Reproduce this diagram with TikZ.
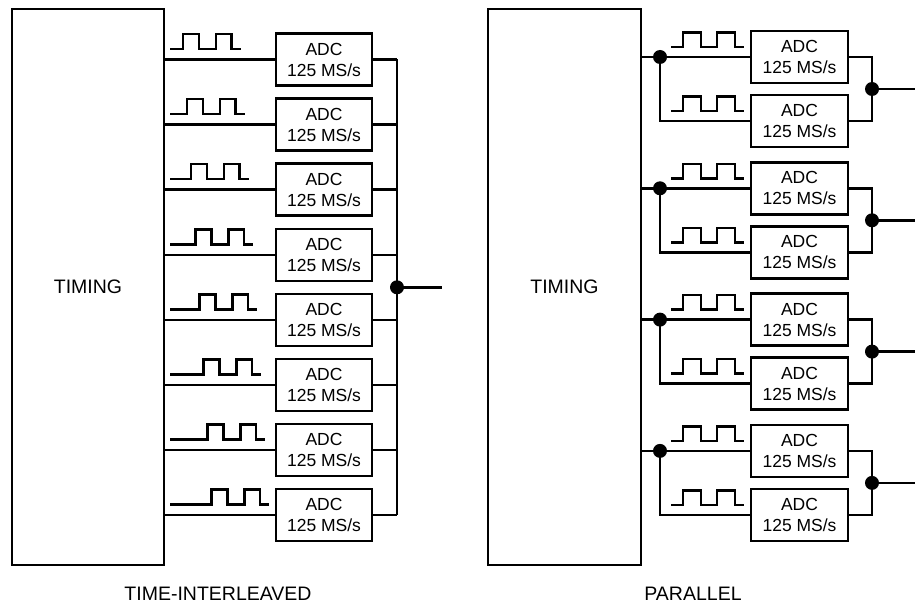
\documentclass[tikz,border=0pt]{standalone}
\usepackage{fontspec}
\setmainfont{Liberation Sans}
\begin{document}
\begin{tikzpicture}[x=1pt,y=-1pt, line width=2.5pt,
  adc/.style={draw, line width=2.5pt, minimum width=96pt, minimum height=52pt, inner sep=0pt, align=center, font=\fontsize{17.5}{21}\selectfont},
  timing/.style={draw, line width=2.5pt, inner sep=0pt, font=\fontsize{19.5}{22}\selectfont},
  wire/.style={line width=2.5pt},
  wave/.style={line width=2.5pt, line join=miter},
  dotnode/.style={circle, fill=black, inner sep=0pt, minimum size=14pt},
  caption/.style={inner sep=0pt, font=\fontsize{19.5}{22}\selectfont}]
\useasboundingbox (0,0) rectangle (915,604);

% ---------- time-interleaved ----------
\node[timing, minimum width=152pt, minimum height=556pt] (tL) at (88,287) {TIMING};
\foreach \i in {0,...,7} {
  \pgfmathsetmacro\cy{59.5+65.1*\i}
  \pgfmathsetmacro\r{183+4.1*\i}
  \node[adc] (a\i) at (324,\cy) {ADC\\125 MS/s};
  \draw[wire] (tL.east |- a\i.west) -- (a\i.west);
  \coordinate (o\i) at (397,\cy);
  \draw[wire] (a\i.east) -- (o\i);
  \draw[wave] (170,{\cy-10.5}) -| (\r,{\cy-25.5}) -| ({\r+16},{\cy-10.5})
      -| ({\r+33},{\cy-25.5}) -| ({\r+48.5},{\cy-10.5}) -- ({\r+57.5},{\cy-10.5});
}
\draw[wire] (o0) -- (o7);
\node[dotnode] (dL) at (397,287.3) {};
\coordinate (outL) at (442,287.3);
\draw[wire] (dL.center) -- (outL);
\node[caption] (capL) at (218,594) {TIME-INTERLEAVED};

% ---------- parallel ----------
\node[timing, minimum width=153pt, minimum height=556pt] (tR) at (564.5,287) {TIMING};
\foreach \g in {0,...,3} {
  \pgfmathsetmacro\ya{57+131.3*\g}
  \pgfmathsetmacro\yb{\ya+64}
  \pgfmathsetmacro\ym{\ya+32}
  \node[adc, minimum width=97pt] (pa\g) at (799.5,\ya) {ADC\\125 MS/s};
  \node[adc, minimum width=97pt] (pb\g) at (799.5,\yb) {ADC\\125 MS/s};
  \node[dotnode] (s\g) at (660,\ya) {};
  \draw[wire] (tR.east |- s\g.center) -- (pa\g.west);
  \coordinate (sb\g) at (660,\yb);
  \draw[wire] (s\g.center) -- (sb\g) -- (pb\g.west);
  \coordinate (ea\g) at (872,\ya);
  \coordinate (eb\g) at (872,\yb);
  \draw[wire] (pa\g.east) -- (ea\g) -- (eb\g) -- (pb\g.east);
  \node[dotnode] (m\g) at (872,\ym) {};
  \coordinate (out\g) at (915,\ym);
  \draw[wire] (m\g.center) -- (out\g);
  \foreach \yy in {\ya,\yb} {
    \draw[wave] (671,{\yy-10}) -| (683,{\yy-24.5}) -| (701,{\yy-10})
        -| (717,{\yy-24.5}) -| (735,{\yy-10}) -- (744,{\yy-10});
  }
}
\node[caption] (capR) at (693,594) {PARALLEL};
\end{tikzpicture}
\end{document}
